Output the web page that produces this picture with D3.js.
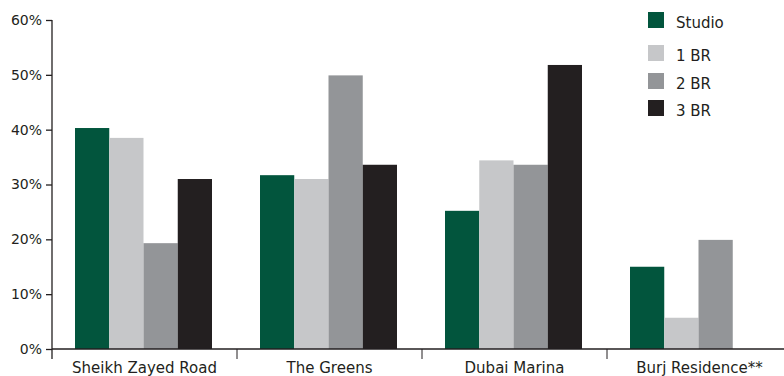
<!DOCTYPE html>
<html>
<head>
<meta charset="utf-8">
<script src="https://cdn.jsdelivr.net/npm/d3@7"></script>
<style>
  body { margin: 0; background: #fff; }
  svg text { font-family: "DejaVu Sans", sans-serif; fill: #231f20; }
</style>
</head>
<body>
<div id="chart"></div>
<script>
var width = 784, height = 376;
var margin = {top: 20, right: -8, bottom: 27, left: 52};

var categories = ["Sheikh Zayed Road", "The Greens", "Dubai Marina", "Burj Residence**"];
var seriesNames = ["Studio", "1 BR", "2 BR", "3 BR"];
var studio = [40.3, 31.7, 25.2, 15.0];
var br1 = [38.5, 31.0, 34.4, 5.7];
var br2 = [19.3, 49.9, 33.6, 19.9];
var br3 = [31.0, 33.6, 51.8, null];
var yTicks = [0, 10, 20, 30, 40, 50, 60];
var colors = ["#02553d", "#c6c7c9", "#939598", "#231f20"];

var seriesValues = [studio, br1, br2, br3];

var svg = d3.select("#chart").append("svg")
  .attr("width", width)
  .attr("height", height);

var innerW = width - margin.left - margin.right;
var innerH = height - margin.top - margin.bottom;

var g = svg.append("g")
  .attr("transform", "translate(" + margin.left + "," + margin.top + ")");

var x0 = d3.scaleBand().domain(categories).range([0, innerW]).paddingInner(0).paddingOuter(0);
var x1 = d3.scaleBand().domain(seriesNames).range([23, x0.bandwidth() - 25]).padding(0);
var y = d3.scaleLinear().domain([0, 60]).range([innerH, 0]);
var color = d3.scaleOrdinal().domain(seriesNames).range(colors);

// bars
var groups = g.selectAll(".grp")
  .data(categories)
  .enter().append("g")
    .attr("class", "grp")
    .attr("transform", (d) => "translate(" + x0(d) + ",0)");

groups.selectAll("rect")
  .data((d, i) => seriesNames.map((s, j) => ({series: s, value: seriesValues[j][i]})).filter((e) => e.value != null))
  .enter().append("rect")
    .attr("x", (d) => x1(d.series))
    .attr("width", x1.bandwidth())
    .attr("y", (d) => y(d.value))
    .attr("height", (d) => innerH - y(d.value))
    .style("fill", (d) => color(d.series));

// y axis
var yAxis = g.append("g")
  .call(d3.axisLeft(y).tickValues(yTicks).tickFormat((d) => d + "%").tickSize(6).tickPadding(4));
yAxis.select(".domain").attr("d", "M0," + y(60) + "V" + (innerH + 10));
yAxis.selectAll("text").style("font-size", "14px").style("font-family", "DejaVu Sans");

// x axis with ticks at band edges
var xAxis = g.append("g").attr("transform", "translate(0," + innerH + ")");
xAxis.append("line")
  .attr("x1", 0).attr("x2", innerW)
  .attr("stroke", "#231f20").attr("stroke-width", 1.3);
xAxis.selectAll(".sep")
  .data(categories.slice(1))
  .enter().append("line")
    .attr("x1", (d) => x0(d)).attr("x2", (d) => x0(d))
    .attr("y1", 0).attr("y2", 10)
    .attr("stroke", "#231f20");
xAxis.selectAll(".lbl")
  .data(categories)
  .enter().append("text")
    .attr("x", (d) => x0(d) + x0.bandwidth() / 2)
    .attr("y", 24)
    .attr("text-anchor", "middle")
    .style("font-size", "15px")
    .text((d) => d);

g.selectAll(".domain, .tick line").attr("stroke", "#231f20").attr("stroke-width", 1.3);

// legend
var legend = svg.append("g").attr("transform", "translate(648,12)");
var legY = [0, 33, 61, 88];
var items = legend.selectAll(".item")
  .data(seriesNames)
  .enter().append("g")
    .attr("transform", (d, i) => "translate(0," + legY[i] + ")");
items.append("rect")
  .attr("width", 16).attr("height", 16)
  .style("fill", (d) => color(d));
items.append("text")
  .attr("x", 28).attr("y", 16)
  .style("font-size", "15px")
  .text((d) => d);
</script>
</body>
</html>
